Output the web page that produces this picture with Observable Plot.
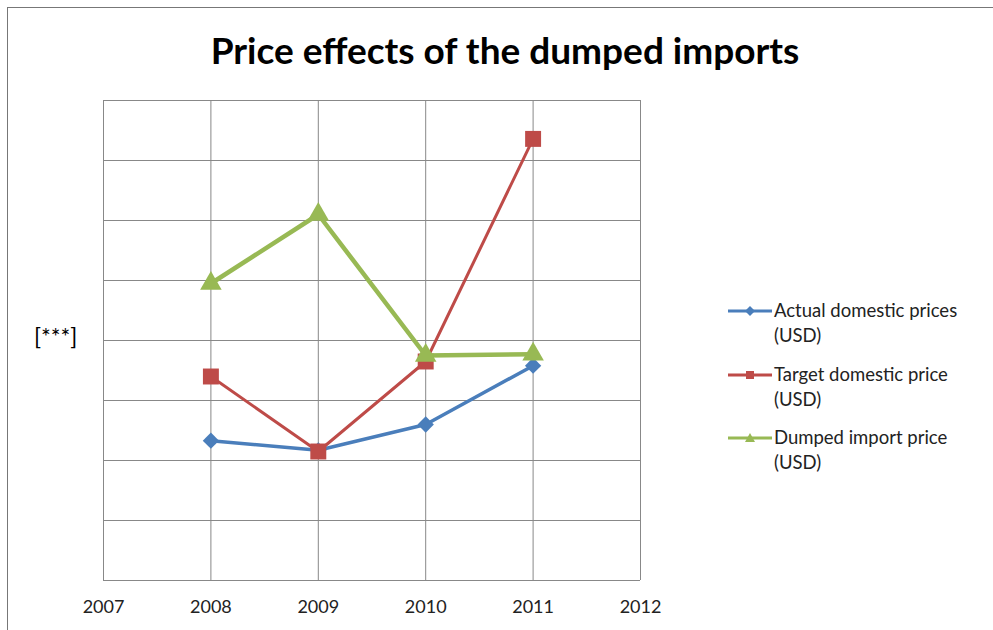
<!DOCTYPE html>
<html>
<head>
<meta charset="utf-8">
<script src="https://cdn.jsdelivr.net/npm/d3@7"></script>
<script src="https://cdn.jsdelivr.net/npm/@observablehq/plot@0.6"></script>
<style>
  html, body { margin: 0; padding: 0; background: #fff; }
  #wrap { position: relative; width: 993px; height: 630px; overflow: hidden; font-family: Lato, "Open Sans", sans-serif; }
  #frame { position: absolute; left: 7px; top: 7px; width: 1000px; height: 700px; border: 1px solid #777; box-sizing: border-box; }
  #title { position: absolute; left: 0; width: 1010px; top: 27px; text-align: center; font-weight: bold; font-size: 37px; color: #000; }
  #ylab { position: absolute; left: 34px; top: 322px; font-size: 23px; color: #000; }
  #legend { position: absolute; left: 726px; top: 298px; font-size: 18.5px; color: #222; line-height: 25px; }
  .item { display: flex; align-items: flex-start; margin-bottom: 13.5px; }
  .item svg { flex: none; margin-top: 1px; }
  #chart { position: absolute; left: 0; top: 0; }
</style>
</head>
<body>
<div id="wrap">
  <div id="frame"></div>
  <div id="chart"></div>
  <div id="title">Price effects of the dumped imports</div>
  <div id="ylab">[***]</div>
  <div id="legend"></div>
</div>
<script>
const years = [2008, 2009, 2010, 2011];
const actualDomestic = [2.33, 2.17, 2.6, 3.58];
const targetDomestic = [3.4, 2.15, 3.65, 7.36];
const dumpedImport = [4.95, 6.1, 3.75, 3.77];
const xTicks = [2007, 2008, 2009, 2010, 2011, 2012];
const yTicks = [0, 1, 2, 3, 4, 5, 6, 7, 8];

const seriesNames = ["Actual domestic prices", "Target domestic price", "Dumped import price"];
const seriesValues = [actualDomestic, targetDomestic, dumpedImport];
const colors = ["#4a7ebb", "#be4b48", "#98b954"];
const widths = [3.5, 3, 4.5];
const radii = [6.5, 9, 8];

// square rotated 45 degrees (Excel-style diamond)
const rhombus = {
  draw(context, size) {
    const s = Math.sqrt(size / 2);
    context.moveTo(0, -s);
    context.lineTo(s, 0);
    context.lineTo(0, s);
    context.lineTo(-s, 0);
    context.closePath();
  }
};
const symbols = [rhombus, d3.symbolSquare, d3.symbolTriangle];

const data = [];
seriesNames.forEach((name, i) => years.forEach((yr, j) => data.push({series: name, year: yr, value: seriesValues[i][j], idx: i})));

const marks = [
  Plot.ruleY(yTicks, {stroke: "#888", strokeWidth: 1}),
  Plot.ruleX(xTicks, {stroke: "#888", strokeWidth: 1}),
  Plot.axisX({ticks: xTicks, tickFormat: d => String(d), tickSize: 0, tickPadding: 20, fontSize: 18, fill: "#222", label: null})
];
seriesNames.forEach((name, i) => {
  const d = data.filter(r => r.idx === i);
  marks.push(Plot.line(d, {x: "year", y: "value", stroke: colors[i], strokeWidth: widths[i], curve: "linear"}));
  marks.push(Plot.dot(d, {x: "year", y: "value", fill: colors[i], symbol: () => symbols[i], r: radii[i], stroke: "none"}));
});

const chart = Plot.plot({
  width: 993,
  height: 630,
  marginLeft: 103,
  marginRight: 353,
  marginTop: 100,
  marginBottom: 50,
  style: {fontFamily: "Lato, 'Open Sans', sans-serif", background: "transparent", overflow: "visible"},
  x: {domain: [2007, 2012], axis: null},
  y: {domain: [0, 8], axis: null},
  symbol: {type: "identity"},
  marks
});
document.getElementById("chart").appendChild(chart);

const legend = document.getElementById("legend");
seriesNames.forEach((name, i) => {
  const item = document.createElement("div");
  item.className = "item";
  const shape = i === 0 ? '<path d="M24,7 L29,12 L24,17 L19,12 Z"/>'
    : i === 1 ? '<rect x="20" y="8" width="8" height="8"/>'
    : '<path d="M24,7 L29,16 L19,16 Z"/>';
  item.innerHTML = `<svg width="48" height="24"><line x1="2" x2="46" y1="12" y2="12" stroke="${colors[i]}" stroke-width="3"/><g fill="${colors[i]}">${shape}</g></svg><div>${name}<br>(USD)</div>`;
  legend.appendChild(item);
});
</script>
</body>
</html>
